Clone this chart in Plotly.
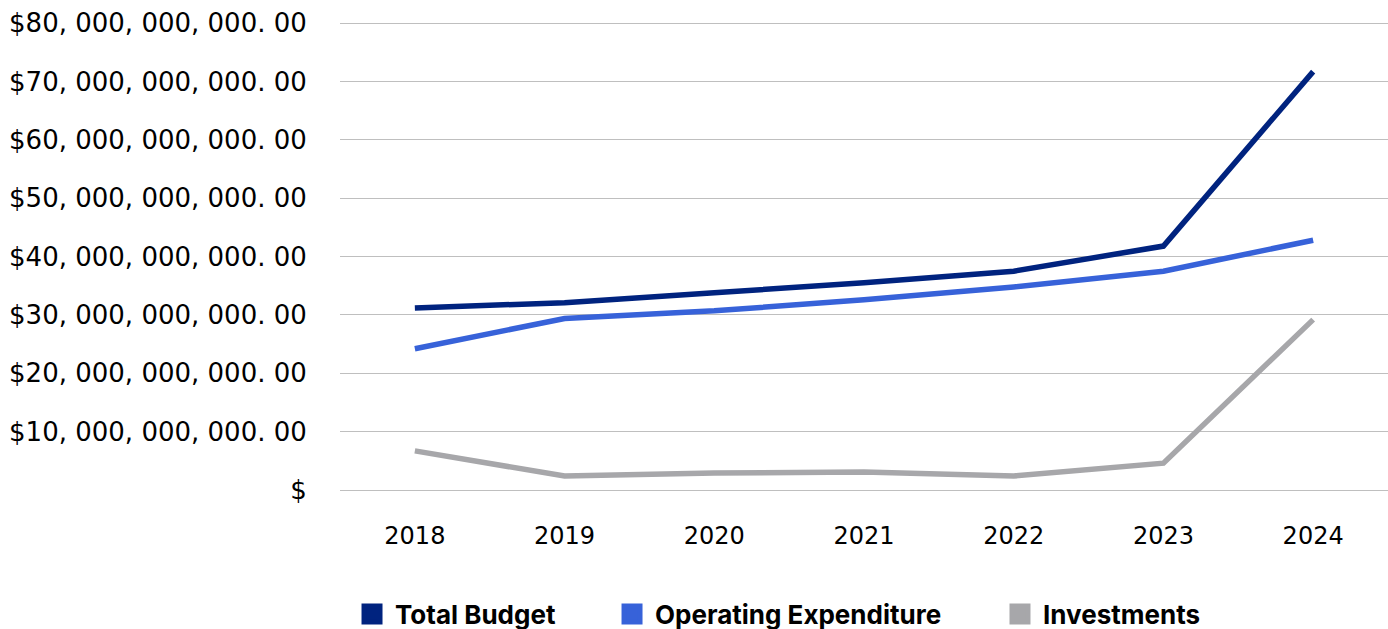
import plotly.graph_objects as go

years = ["2018", "2019", "2020", "2021", "2022", "2023", "2024"]
total_budget = [31.2e9, 32.1e9, 33.8e9, 35.5e9, 37.5e9, 41.8e9, 71.7e9]
operating_exp = [24.2e9, 29.4e9, 30.7e9, 32.6e9, 34.8e9, 37.5e9, 42.8e9]
investments = [6.7e9, 2.4e9, 2.9e9, 3.1e9, 2.4e9, 4.6e9, 29.2e9]

y_tickvals = [0, 10e9, 20e9, 30e9, 40e9, 50e9, 60e9, 70e9, 80e9]
y_ticktext = ["$", "$10, 000, 000, 000. 00", "$20, 000, 000, 000. 00",
              "$30, 000, 000, 000. 00", "$40, 000, 000, 000. 00",
              "$50, 000, 000, 000. 00", "$60, 000, 000, 000. 00",
              "$70, 000, 000, 000. 00", "$80, 000, 000, 000. 00"]

series = [
    ("Total Budget", total_budget, "#00237F"),
    ("Operating Expenditure", operating_exp, "#3762D9"),
    ("Investments", investments, "#A7A7AA"),
]
legend_ids = ["legend", "legend2", "legend3"]
legend_x = [0.0086, 0.2567, 0.6269]

fig = go.Figure()
for name, vals, color in series:
    fig.add_trace(go.Scatter(x=years, y=vals, mode="lines", name=name,
                             line=dict(color=color, width=5.5),
                             showlegend=False))
for (name, vals, color), lid in zip(series, legend_ids):
    fig.add_trace(go.Scatter(x=[None], y=[None], mode="markers", name=name,
                             marker=dict(symbol="square", size=16, color=color,
                                         line=dict(color=color, width=6)),
                             showlegend=True, legend=lid))

legend_common = dict(orientation="h", yanchor="middle", y=-0.265, xanchor="left",
                     font=dict(family="Inter", size=26, color="#000000", weight="bold"),
                     itemsizing="trace", itemwidth=36,
                     bgcolor="rgba(0,0,0,0)", borderwidth=0)

layout_legends = {lid: dict(legend_common, x=lx) for lid, lx in zip(legend_ids, legend_x)}

fig.update_layout(
    width=1388, height=629,
    margin=dict(l=340, r=0, t=22, b=139, autoexpand=False),
    plot_bgcolor="white", paper_bgcolor="white",
    font=dict(family="DejaVu Sans", size=24, color="#000000"),
    xaxis=dict(type="category", range=[-0.5, 6.5], showgrid=False, zeroline=False,
               showline=False, ticks="outside", ticklen=24, tickcolor="rgba(0,0,0,0)",
               tickfont=dict(family="DejaVu Sans", size=24, color="#000000")),
    yaxis=dict(range=[0, 80.2e9], tickvals=y_tickvals, ticktext=y_ticktext,
               showgrid=True, gridcolor="#BFBFBF", gridwidth=1.3,
               zeroline=True, zerolinecolor="#BFBFBF", zerolinewidth=1.3,
               showline=False, ticks="outside", ticklen=27, tickcolor="rgba(0,0,0,0)",
               tickfont=dict(family="DejaVu Sans", size=26, color="#000000")),
    **layout_legends,
)

fig.write_html("out.html")
